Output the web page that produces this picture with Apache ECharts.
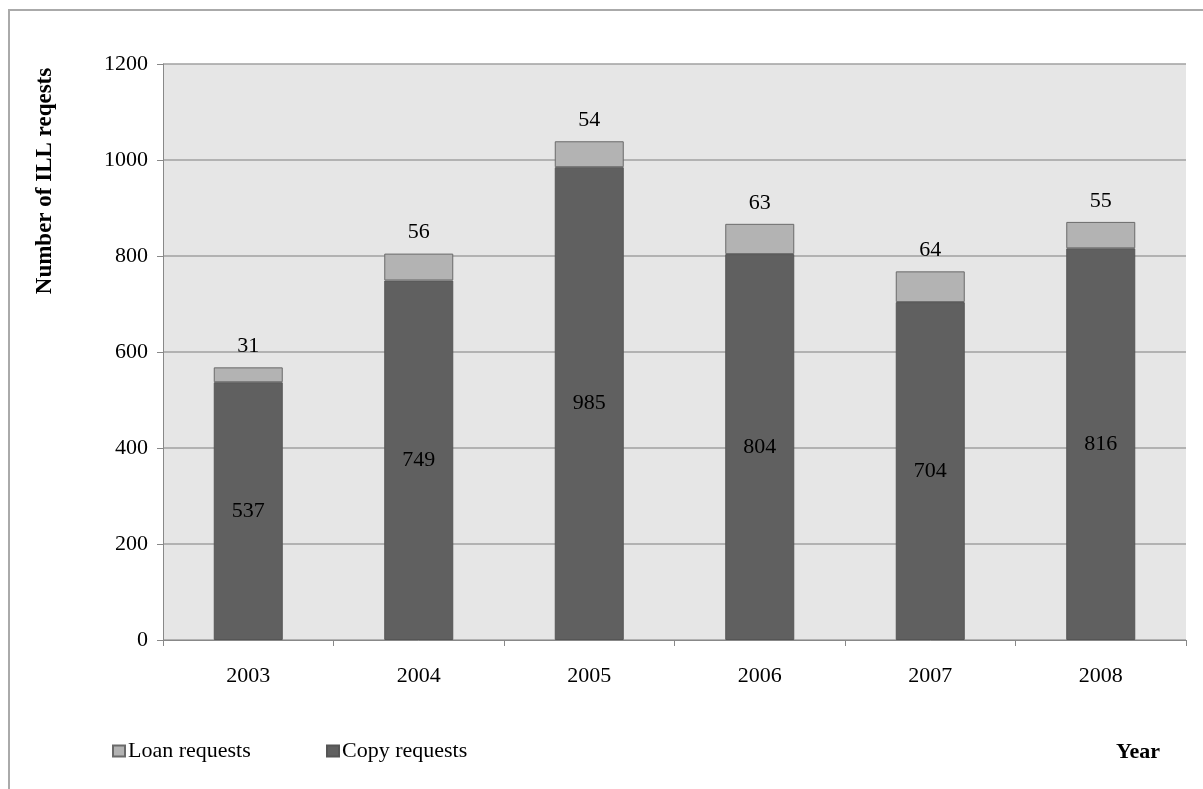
<!DOCTYPE html>
<html>
<head>
<meta charset="utf-8">
<script src="https://cdn.jsdelivr.net/npm/echarts@6/dist/echarts.min.js"></script>
<style>html,body{margin:0;padding:0;background:#fff}#c{width:1203px;height:789px}</style>
</head>
<body>
<div id="c"></div>
<script>
const years = ['2003', '2004', '2005', '2006', '2007', '2008'];
const copyRequests = [537, 749, 985, 804, 704, 816];
const loanRequests = [31, 56, 54, 63, 64, 55];
const yTicks = { min: 0, max: 1200, interval: 200 };

const FONT = '"Liberation Serif", "Times New Roman", serif';
const FS = 22;
const chart = echarts.init(document.getElementById('c'), null, { renderer: 'canvas' });

chart.setOption({
  backgroundColor: '#ffffff',
  animation: false,
  grid: {
    left: 163, right: 17, top: 64, bottom: 149,
    show: true, backgroundColor: '#e6e6e6', borderWidth: 0
  },
  legend: [
    {
      data: ['Loan requests'], left: 112, top: 740, padding: 0, itemWidth: 12, itemHeight: 11, itemGap: 0,
      icon: 'rect', textStyle: { fontFamily: FONT, fontSize: FS, color: '#000', padding: [0, 0, 0, -2] }
    },
    {
      data: ['Copy requests'], left: 326, top: 740, padding: 0, itemWidth: 12, itemHeight: 11, itemGap: 0,
      icon: 'rect', textStyle: { fontFamily: FONT, fontSize: FS, color: '#000', padding: [0, 0, 0, -2] }
    }
  ],
  xAxis: {
    type: 'category',
    data: years,
    axisLine: { lineStyle: { color: '#888888', width: 1 } },
    axisTick: { show: true, length: 6, alignWithLabel: false, lineStyle: { color: '#888888' } },
    axisLabel: { fontFamily: FONT, fontSize: FS, color: '#000', margin: 25 }
  },
  yAxis: {
    type: 'value',
    min: yTicks.min, max: yTicks.max, interval: yTicks.interval,
    axisLine: { show: true, lineStyle: { color: '#888888', width: 1 } },
    axisTick: { show: true, length: 6, lineStyle: { color: '#888888' } },
    axisLabel: { fontFamily: FONT, fontSize: FS, color: '#000', margin: 15, formatter: v => String(v) },
    splitLine: { show: true, lineStyle: { color: '#a0a0a0', width: 1.5 } }
  },
  series: [
    {
      name: 'Copy requests', type: 'bar', stack: 'total', data: copyRequests,
      barWidth: 69,
      itemStyle: { color: '#606060', borderColor: '#555555', borderWidth: 1 },
      label: { show: true, position: 'inside', fontFamily: FONT, fontSize: FS, color: '#000' }
    },
    {
      name: 'Loan requests', type: 'bar', stack: 'total', data: loanRequests,
      barWidth: 69,
      itemStyle: { color: '#b3b3b3', borderColor: '#6a6a6a', borderWidth: 1 },
      label: { show: true, position: 'top', distance: 10, fontFamily: FONT, fontSize: FS, color: '#000' }
    }
  ],
  graphic: [
    {
      type: 'rect', z: -10, silent: true,
      shape: { x: 9, y: 10, width: 1300, height: 900 },
      style: { fill: 'none', stroke: '#aaaaaa', lineWidth: 2 }
    },
    {
      type: 'text', x: 45, y: 181, rotation: Math.PI / 2,
      style: {
        text: 'Number of ILL reqests', fontFamily: FONT, fontSize: 23, fontWeight: 'bold',
        fill: '#000', align: 'center', verticalAlign: 'middle'
      }
    },
    {
      type: 'text', x: 1138, y: 752,
      style: {
        text: 'Year', fontFamily: FONT, fontSize: 22, fontWeight: 'bold',
        fill: '#000', align: 'center', verticalAlign: 'middle'
      }
    }
  ]
});
</script>
</body>
</html>
